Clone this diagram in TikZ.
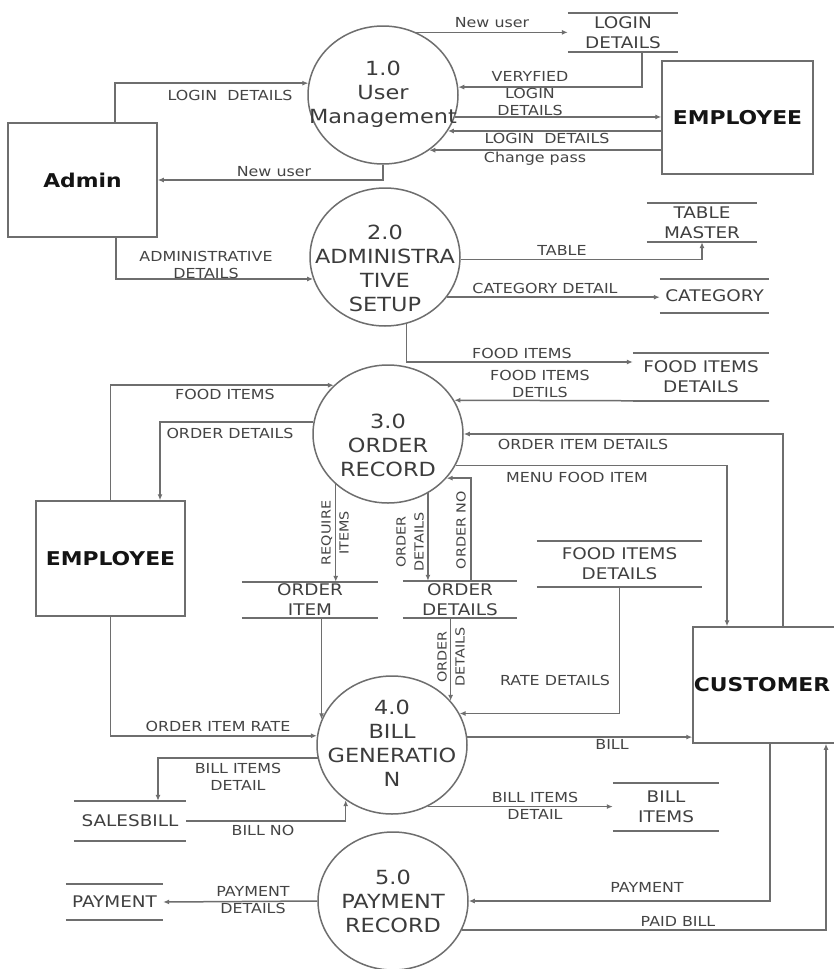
\documentclass[tikz,border=0pt]{standalone}
\usepackage{fontspec}
\setmainfont{DejaVu Sans}[FakeStretch=1.15]
\usetikzlibrary{arrows.meta,shapes.geometric}

\definecolor{linec}{HTML}{6E6E6E}
\definecolor{lblc}{HTML}{444444}
\definecolor{storec}{HTML}{404040}
\definecolor{proctc}{HTML}{3C3C3C}
\definecolor{entc}{HTML}{141414}

\newcommand\lblfont{\fontsize{13.8}{17}\selectfont}
\newcommand\vlblfont{\fontsize{12.5}{18}\selectfont}
\newcommand\procfont{\fontsize{19.5}{24}\selectfont}
\newcommand\storefont{\fontsize{16}{20}\selectfont}
\newcommand\entfont{\fontsize{19}{23}\selectfont\bfseries}

\tikzset{
  proc/.style={ellipse, draw=linec, line width=1.5pt, minimum width=150pt,
    minimum height=138pt, inner sep=0pt},
  proctext/.style={font=\procfont, text=proctc, align=center, inner sep=0pt},
  entity/.style={rectangle, draw=linec, line width=1.5pt, font=\entfont,
    text=entc, inner sep=0pt},
  store/.style={font=\storefont, text=storec, align=center, inner sep=0pt},
  storeline/.style={draw=linec, line width=1.5pt},
  flow/.style={draw=linec, line width=1.5pt, -{Latex[length=6pt,width=5pt]}},
  lbl/.style={font=\lblfont, text=lblc, align=center, inner sep=0pt},
  vlbl/.style={font=\vlblfont, text=lblc, align=center, inner sep=0pt, rotate=90}
}

\begin{document}
\begin{tikzpicture}[x=1pt,y=-1pt]
\fill[white, use as bounding box] (0,0) rectangle (833,969);

% ---- processes ----
\node[proc] (p1) at (383,95) {};
\node[proc] (p2) at (385,257) {};
\node[proc] (p3) at (388,434) {};
\node[proc] (p4) at (392,745) {};
\node[proc] (p5) at (393,901) {};
\node[proctext] (p1t) at (383,94) {1.0\\User\\Management};
\node[proctext] (p2t) at (385,268) {2.0\\ADMINISTRA\\TIVE\\SETUP};
\node[proctext] (p3t) at (388,445) {3.0\\ORDER\\RECORD};
\node[proctext] (p4t) at (392,743) {4.0\\BILL\\GENERATIO\\N};
\node[proctext] (p5t) at (393,901) {5.0\\PAYMENT\\RECORD};

% ---- external entities ----
\node[entity, minimum width=149pt, minimum height=114pt] (admin) at (82.5,180) {Admin};
\node[entity, minimum width=151pt, minimum height=113pt] (emp1) at (737.5,117.5) {EMPLOYEE};
\node[entity, minimum width=149pt, minimum height=115pt] (emp2) at (110.5,558.5) {EMPLOYEE};
\node[entity, minimum width=150pt, minimum height=116pt,
  label={[font=\entfont, text=entc, inner sep=0pt, xshift=-6pt]center:CUSTOMER}]
  (cust) at (768,685) {};

% ---- data stores ----
\node[store, minimum width=110pt, minimum height=39pt] (sLogin) at (623,32.5) {LOGIN\\DETAILS};
\node[store, minimum width=110pt, minimum height=39pt] (sTable) at (702,222.5) {TABLE\\MASTER};
\node[store, minimum width=109pt, minimum height=34pt] (sCat) at (714.5,296) {CATEGORY};
\node[store, minimum width=136pt, minimum height=48pt] (sFid1) at (701,377) {FOOD ITEMS\\DETAILS};
\node[store, minimum width=136pt, minimum height=36pt] (sOi) at (310,600) {ORDER\\ITEM};
\node[store, minimum width=114pt, minimum height=37pt] (sOd) at (460,599.5) {ORDER\\DETAILS};
\node[store, minimum width=165pt, minimum height=46pt] (sFid2) at (619.5,564) {FOOD ITEMS\\DETAILS};
\node[store, minimum width=106pt, minimum height=48pt] (sBi) at (666,807) {BILL\\ITEMS};
\node[store, minimum width=112pt, minimum height=40pt] (sSb) at (130,821) {SALESBILL};
\node[store, minimum width=97pt, minimum height=36pt] (sPay) at (114.5,902) {PAYMENT};
\foreach \s in {sLogin,sTable,sCat,sFid1,sOi,sOd,sFid2,sBi,sSb,sPay}
  \draw[storeline] (\s.north west) -- (\s.north east) (\s.south west) -- (\s.south east);

% ---- flows around 1.0 ----
\draw[flow] ([xshift=32.5pt]admin.north) |- (p1.171);
\draw[flow] (p1.south) |- (admin.east);
\draw[flow] (p1.62) -- (p1.62 -| sLogin.west);
\draw[flow] ([xshift=19pt]sLogin.south) |- (p1.6);
\draw[flow] (p1.343) -- (p1.343 -| emp1.west);
\draw[flow] (p1.331 -| emp1.west) -- (p1.331);
\draw[flow] (p1.310 -| emp1.west) -- (p1.310);

% ---- flows around 2.0 ----
\draw[flow] ([xshift=33.5pt]admin.south) |- (p2.197);
\draw[flow] (p2.358) -| (sTable.south);
\draw[flow] (p2.327) -- (p2.327 -| sCat.west);
\draw[flow] (p2.288) |- ([yshift=15pt]sFid1.west);

% ---- flows around 3.0 ----
\draw[flow] (sFid1.south east) -- (p3.27);
\draw[flow] (emp2.north) |- (p3.138);
\draw[flow] (p3.171) -| ([xshift=49.5pt]emp2.north);
\draw[flow] (p3.224) -- (p3.224 |- sOi.north);
\draw[flow] (p3.304) -- (p3.304 |- sOd.north);
\draw[flow] ([xshift=11pt]sOd.north) |- (p3.323);
\draw[flow] ([xshift=15pt]cust.north) |- (p3.east);
\draw[flow] (p3.335) -| ([xshift=-41pt]cust.north);

% ---- flows around 4.0 ----
\draw[flow] (p4.160 |- sOi.south) -- (p4.160);
\draw[flow] (emp2.south) |- (p4.173);
\draw[flow] (p4.37 |- sOd.south) -- (p4.37);
\draw[flow] (sFid2.south) |- (p4.25);
\draw[flow] (p4.6) -- (p4.6 -| cust.west);
\draw[flow] (p4.190) -| ([xshift=28pt]sSb.north);
\draw[flow] (sSb.east) -| (p4.230);
\draw[flow] (p4.300) -- (p4.300 -| sBi.west);

% ---- flows around 5.0 ----
\draw[flow] (p5.west) -- (sPay.east);
\draw[flow] ([xshift=2pt]cust.south) |- (p5.east);
\draw[flow] (p5.337) -| ([xshift=58pt]cust.south);

% ---- flow labels ----
\node[lbl] (l1) at (230,95) {LOGIN~~DETAILS};
\node[lbl] (l2) at (274,172) {New user};
\node[lbl] (l3) at (492,23) {New user};
\node[lbl] (l4) at (530,94) {VERYFIED\\LOGIN\\DETAILS};
\node[lbl] (l5) at (547,138) {LOGIN~~DETAILS};
\node[lbl] (l6) at (535,159) {Change pass};
\node[lbl] (l7) at (206,264.5) {ADMINISTRATIVE\\DETAILS};
\node[lbl] (l8) at (562,250) {TABLE};
\node[lbl] (l9) at (545,288) {CATEGORY DETAIL};
\node[lbl] (l10) at (522,353) {FOOD ITEMS};
\node[lbl] (l11) at (540,383.5) {FOOD ITEMS\\DETILS};
\node[lbl] (l12) at (225,394) {FOOD ITEMS};
\node[lbl] (l13) at (230,433) {ORDER DETAILS};
\node[lbl] (l14) at (583,444) {ORDER ITEM DETAILS};
\node[lbl] (l15) at (577,477) {MENU FOOD ITEM};
\node[vlbl] (l16) at (335,533) {REQUIRE\\ITEMS};
\node[vlbl] (l17) at (410,542) {ORDER\\DETAILS};
\node[vlbl] (l18) at (461,530) {ORDER NO};
\node[vlbl] (l19) at (451,657) {ORDER\\DETAILS};
\node[lbl] (l20) at (555,680) {RATE DETAILS};
\node[lbl] (l21) at (218,726) {ORDER ITEM RATE};
\node[lbl] (l22) at (612,744) {BILL};
\node[lbl] (l23) at (238,777) {BILL ITEMS\\DETAIL};
\node[lbl] (l24) at (263,830) {BILL NO};
\node[lbl] (l25) at (535,806) {BILL ITEMS\\DETAIL};
\node[lbl] (l26) at (253,900.5) {PAYMENT\\DETAILS};
\node[lbl] (l27) at (647,887) {PAYMENT};
\node[lbl] (l28) at (678,921) {PAID BILL};
\end{tikzpicture}
\end{document}
